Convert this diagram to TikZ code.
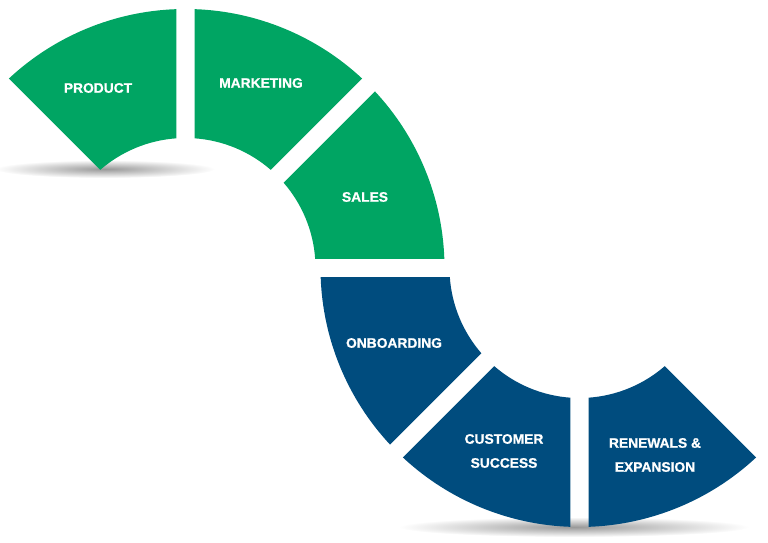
\documentclass[tikz,border=0pt]{standalone}
\usepackage{fontspec}
\setmainfont[BoldFeatures={FakeBold=0.8}]{Liberation Sans}
\usetikzlibrary{calc}
\definecolor{segGreen}{HTML}{00A563}
\definecolor{segBlue}{HTML}{004C7E}
\newcommand{\arcseg}[4]{%
  \fill[#4] ($(#1)+(#2+2:259)$) arc[start angle=#2+2, end angle=#3-2, radius=259]
    -- ($(#1)+(#3-4:130)$) arc[start angle=#3-4, end angle=#2+4, radius=130] -- cycle;}
\tikzset{
  lbl/.style={text=white, align=center, inner sep=0pt,
    font=\fontsize{13.8}{24}\selectfont\bfseries},
  shadow/.style={inner color=black!40, outer color=white}
}
\begin{document}
\begin{tikzpicture}[x=1pt,y=1pt]
\useasboundingbox (0,0) rectangle (768,543);
\coordinate (c1) at (185.5,275);
\coordinate (c2) at (579.5,275);
% shadows
\shade[shadow] (105,374) ellipse[x radius=110, y radius=9];
\shade[shadow] (574,16) ellipse[x radius=175, y radius=10];
% top arc
\arcseg{c1}{90}{135}{segGreen}
\arcseg{c1}{45}{90}{segGreen}
\arcseg{c1}{0}{45}{segGreen}
% bottom arc
\arcseg{c2}{180}{225}{segBlue}
\arcseg{c2}{225}{270}{segBlue}
\arcseg{c2}{270}{315}{segBlue}
% labels
\node[lbl] (product) at (98,455) {PRODUCT};
\node[lbl] (marketing) at (261,460) {MARKETING};
\node[lbl] (sales) at (365,346) {SALES};
\node[lbl] (onboarding) at (394,200) {ONBOARDING};
\node[lbl] (customer) at (504,92) {CUSTOMER\\SUCCESS};
\node[lbl] (renewals) at (655,88) {RENEWALS \&\\EXPANSION};
\end{tikzpicture}
\end{document}
